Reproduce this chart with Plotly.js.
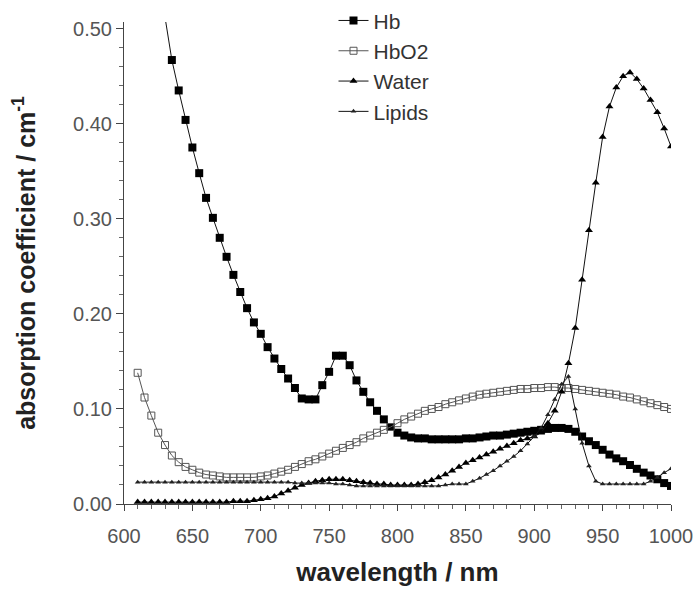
<!DOCTYPE html>
<html>
<head>
<meta charset="utf-8">
<script src="https://cdn.plot.ly/plotly-3.0.1.min.js"></script>
<style>html,body{margin:0;padding:0;background:#fff;}#chart{width:697px;height:612px;}</style>
</head>
<body>
<div id="chart"></div>
<script>
// wavelengths (nm)
const wlHb = [630,635,640,645,650,655,660,665,670,675,680,685,690,695,700,705,710,715,720,725,730,735,740,745,750,755,760,765,770,775,780,785,790,795,800,805,810,815,820,825,830,835,840,845,850,855,860,865,870,875,880,885,890,895,900,905,910,915,920,925,930,935,940,945,950,955,960,965,970,975,980,985,990,995,1000];
const hb = [0.512,0.467,0.435,0.404,0.375,0.348,0.322,0.301,0.280,0.260,0.241,0.223,0.206,0.191,0.179,0.165,0.153,0.142,0.132,0.122,0.111,0.110,0.110,0.125,0.139,0.156,0.156,0.146,0.130,0.118,0.107,0.098,0.089,0.081,0.075,0.072,0.070,0.069,0.069,0.068,0.068,0.068,0.068,0.068,0.069,0.069,0.070,0.071,0.072,0.072,0.073,0.074,0.075,0.076,0.077,0.078,0.079,0.080,0.080,0.079,0.076,0.071,0.066,0.062,0.057,0.052,0.048,0.045,0.041,0.037,0.033,0.030,0.026,0.022,0.019];

const wl = [610,615,620,625,630,635,640,645,650,655,660,665,670,675,680,685,690,695,700,705,710,715,720,725,730,735,740,745,750,755,760,765,770,775,780,785,790,795,800,805,810,815,820,825,830,835,840,845,850,855,860,865,870,875,880,885,890,895,900,905,910,915,920,925,930,935,940,945,950,955,960,965,970,975,980,985,990,995,1000];
const hbo2 = [0.138,0.112,0.093,0.075,0.062,0.051,0.044,0.039,0.036,0.033,0.031,0.030,0.029,0.028,0.028,0.028,0.028,0.028,0.029,0.030,0.032,0.034,0.036,0.039,0.042,0.045,0.047,0.050,0.053,0.056,0.059,0.062,0.065,0.069,0.072,0.075,0.078,0.081,0.085,0.089,0.092,0.095,0.098,0.100,0.102,0.105,0.107,0.109,0.111,0.113,0.115,0.116,0.117,0.118,0.119,0.120,0.121,0.121,0.122,0.122,0.123,0.123,0.122,0.122,0.121,0.120,0.119,0.118,0.117,0.116,0.115,0.113,0.112,0.110,0.108,0.106,0.104,0.102,0.100];
const water = [0.002,0.002,0.002,0.002,0.002,0.002,0.002,0.002,0.002,0.002,0.002,0.002,0.002,0.002,0.003,0.003,0.003,0.004,0.005,0.006,0.008,0.011,0.014,0.017,0.020,0.022,0.024,0.025,0.026,0.026,0.026,0.025,0.024,0.023,0.022,0.021,0.021,0.020,0.020,0.020,0.020,0.021,0.023,0.025,0.028,0.031,0.035,0.039,0.043,0.046,0.049,0.052,0.055,0.058,0.061,0.064,0.067,0.069,0.071,0.075,0.085,0.098,0.118,0.148,0.185,0.236,0.288,0.338,0.386,0.418,0.438,0.450,0.454,0.447,0.437,0.425,0.412,0.395,0.376];
const lipids = [0.023,0.023,0.023,0.023,0.023,0.023,0.023,0.023,0.023,0.023,0.023,0.023,0.023,0.023,0.023,0.023,0.023,0.023,0.023,0.023,0.023,0.023,0.023,0.022,0.022,0.022,0.022,0.022,0.022,0.021,0.021,0.020,0.019,0.019,0.019,0.019,0.019,0.019,0.019,0.019,0.019,0.019,0.019,0.019,0.019,0.020,0.021,0.021,0.021,0.024,0.027,0.031,0.035,0.040,0.045,0.050,0.056,0.063,0.071,0.080,0.094,0.110,0.126,0.134,0.100,0.064,0.040,0.024,0.021,0.021,0.021,0.021,0.021,0.021,0.021,0.024,0.028,0.033,0.037];

const seriesNames = ['Hb','HbO2','Water','Lipids'];
const xTicks = [600,650,700,750,800,850,900,950,1000];
const yTicks = [0,0.1,0.2,0.3,0.4,0.5];
const yTickText = ['0.00','0.10','0.20','0.30','0.40','0.50'];

const lineStyle = {color:'#111', width:1};
const traces = [
  {x:wlHb, y:hb, name:seriesNames[0], mode:'lines+markers', line:lineStyle,
   marker:{symbol:'square', size:8, color:'#000'}},
  {x:wl, y:hbo2, name:seriesNames[1], mode:'lines+markers', line:{color:'#555', width:1},
   marker:{symbol:'square-open', size:7, color:'#555', line:{width:1}}},
  {x:wl, y:water, name:seriesNames[2], mode:'lines+markers', line:lineStyle,
   marker:{symbol:'triangle-up', size:7, color:'#000'}},
  {x:wl, y:lipids, name:seriesNames[3], mode:'lines+markers', line:lineStyle,
   marker:{symbol:'triangle-up', size:5, color:'#222'}}
];

const tickFont = {family:'Arial, Liberation Sans, sans-serif', size:20, color:'#555'};
const xTitleFont = {family:'Arial, Liberation Sans, sans-serif', size:26, color:'#222', weight:'bold'};
const yTitleFont = {family:'Arial, Liberation Sans, sans-serif', size:25, color:'#222', weight:'bold'};

const layout = {
  width:697, height:612,
  margin:{l:124, r:26, t:22, b:108, autoexpand:false},
  paper_bgcolor:'#fff', plot_bgcolor:'#fff',
  showlegend:true,
  legend:{x:0.383, y:1.045, xanchor:'left', yanchor:'top', bgcolor:'rgba(0,0,0,0)',
          font:{family:'Arial, Liberation Sans, sans-serif', size:21, color:'#333'},
          itemwidth:30, tracegroupgap:0},
  xaxis:{range:[600,1000], tickvals:xTicks, ticks:'outside', ticklen:6, tickwidth:1, tickcolor:'#444',
         showline:true, linecolor:'#444', linewidth:1, showgrid:false, zeroline:false, automargin:false,
         ticklabelstandoff:8,
         tickfont:tickFont, minor:{dtick:10, ticks:'outside', ticklen:4, tickcolor:'#666', showgrid:false},
         title:{text:'wavelength / nm', font:xTitleFont, standoff:16}},
  yaxis:{range:[0,0.507], tickvals:yTicks, ticktext:yTickText, ticks:'outside', ticklen:7, tickwidth:1, tickcolor:'#444',
         showline:true, linecolor:'#444', linewidth:1, showgrid:false, zeroline:false, automargin:false,
         tickfont:tickFont, minor:{dtick:0.02, ticks:'outside', ticklen:4, tickcolor:'#666', showgrid:false},
         title:{text:'absorption coefficient / cm<sup>-1</sup>', font:yTitleFont, standoff:30}},
  xaxis2:{overlaying:'x', matches:'x', anchor:'y', side:'bottom', showline:false, showgrid:false, zeroline:false,
          showticklabels:false, tickvals:xTicks, ticks:'inside', ticklen:5, tickcolor:'#444',
          minor:{dtick:10, ticks:'inside', ticklen:4, tickcolor:'#666', showgrid:false}},
  yaxis2:{overlaying:'y', matches:'y', anchor:'x', side:'left', showline:false, showgrid:false, zeroline:false,
          showticklabels:false, tickvals:yTicks, ticks:'inside', ticklen:5, tickcolor:'#444',
          minor:{dtick:0.02, ticks:'inside', ticklen:3, tickcolor:'#666', showgrid:false}}
};

Plotly.newPlot('chart', traces, layout, {displayModeBar:false, staticPlot:true});
</script>
</body>
</html>
